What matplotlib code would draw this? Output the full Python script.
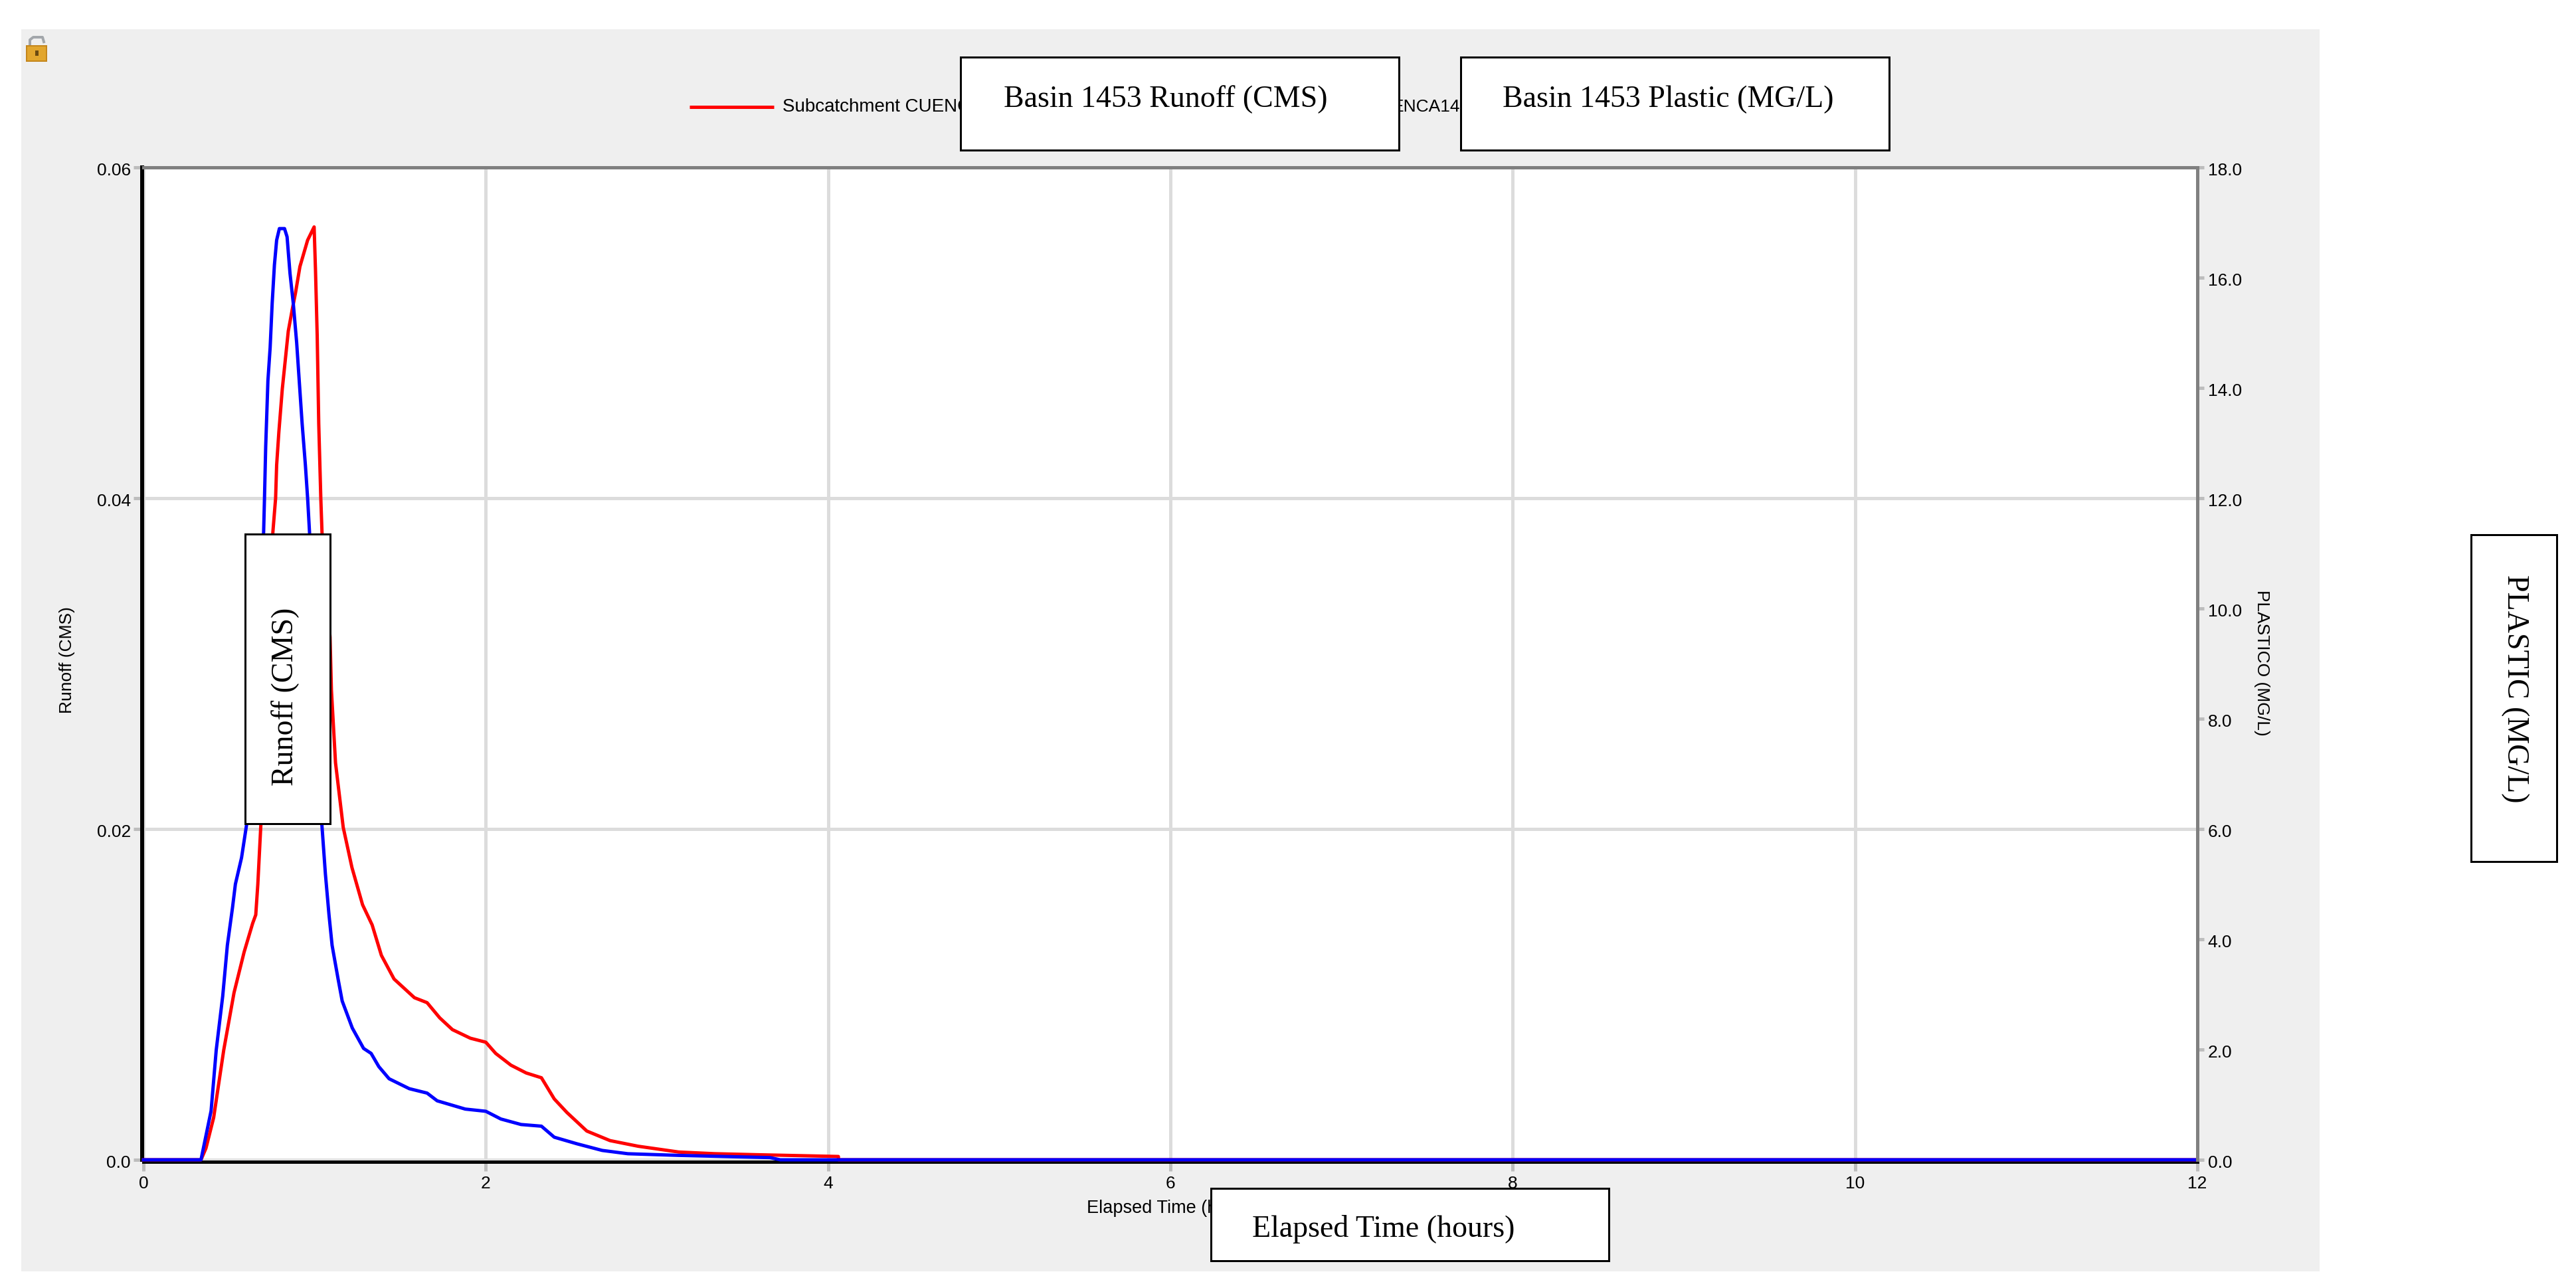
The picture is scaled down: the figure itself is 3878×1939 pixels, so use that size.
import matplotlib
matplotlib.use('Agg')
import matplotlib.pyplot as plt
from matplotlib.lines import Line2D
from matplotlib.patches import Rectangle
from matplotlib.transforms import Affine2D, ScaledTranslation

# Datos
runoff_horas = [0, 0.336, 0.365, 0.41, 0.469, 0.529, 0.588, 0.638, 0.656, 0.668, 0.686,
                0.756, 0.772, 0.778, 0.791, 0.811, 0.83, 0.846, 0.869, 0.888, 0.914, 0.959, 0.997,
                1.005, 1.015, 1.024, 1.036, 1.043, 1.09, 1.098, 1.122, 1.167, 1.218, 1.28, 1.336,
                1.39, 1.464, 1.583, 1.657, 1.731, 1.805, 1.91, 2.0, 2.058, 2.147, 2.236, 2.325,
                2.4, 2.474, 2.59, 2.726, 2.89, 3.127, 3.335, 3.572, 4.06, 4.061, 12]
runoff_cms = [0, 0, 0.0007, 0.00255, 0.00664, 0.0101, 0.01256, 0.0143, 0.01481, 0.01665, 0.0203,
              0.03795, 0.04, 0.042, 0.044, 0.0466, 0.0485, 0.0501, 0.0514, 0.0524, 0.054, 0.0556, 0.0564,
              0.0538, 0.0498, 0.0445, 0.04, 0.03795, 0.0316, 0.0284, 0.024, 0.0201, 0.01767, 0.01542, 0.0142,
              0.01236, 0.01093, 0.0098, 0.0095, 0.00858, 0.00787, 0.00735, 0.00711, 0.00643, 0.00572, 0.00525, 0.00496,
              0.00368, 0.00286, 0.00174, 0.00116, 0.00082, 0.00047, 0.00037, 0.00031, 0.0002, 0, 0]

plastico_horas = [0, 0.336, 0.395, 0.425, 0.463, 0.49, 0.52, 0.537, 0.573, 0.603, 0.702,
                  0.707, 0.714, 0.727, 0.74, 0.752, 0.765, 0.778, 0.794, 0.824, 0.839, 0.856, 0.875,
                  0.895, 0.91, 0.927, 0.946, 0.959, 0.97, 1.042, 1.063, 1.084, 1.102, 1.137, 1.161,
                  1.22, 1.286, 1.33, 1.375, 1.435, 1.553, 1.657, 1.716, 1.88, 2.0, 2.088, 2.206,
                  2.325, 2.4, 2.533, 2.68, 2.83, 3.127, 3.66, 3.72, 12]
plastico_mgl = [0, 0, 0.888, 1.99, 2.97, 3.89, 4.57, 5.0, 5.48, 6.09, 11.39,
                12.0, 12.93, 14.13, 14.73, 15.54, 16.23, 16.68, 16.89, 16.89, 16.74, 16.08, 15.54,
                14.82, 14.13, 13.35, 12.6, 12.0, 11.39, 6.09, 5.18, 4.44, 3.89, 3.28, 2.88,
                2.39, 2.02, 1.93, 1.69, 1.47, 1.29, 1.21, 1.07, 0.92, 0.88, 0.74, 0.64,
                0.61, 0.41, 0.29, 0.17, 0.11, 0.08, 0.04, 0, 0]

x_ticks = [0, 2, 4, 6, 8, 10, 12]
runoff_ticks = [0, 0.02, 0.04, 0.06]
runoff_labels = ['0.0', '0.02', '0.04', '0.06']
plastico_ticks = [0, 2, 4, 6, 8, 10, 12, 14, 16, 18]
plastico_labels = ['0.0', '2.0', '4.0', '6.0', '8.0', '10.0', '12.0', '14.0', '16.0', '18.0']

ANCHO, ALTO = 3878, 1939
SANS = 'Liberation Sans'
SERIF = 'Liberation Serif'
PX = 0.72  # puntos por pixel a dpi 100

fig = plt.figure(figsize=(ANCHO / 100, ALTO / 100), dpi=100)
# coordenadas en pixeles de la imagen, origen arriba a la izquierda
pix = Affine2D().scale(1 / ANCHO, -1 / ALTO).translate(0, 1) + fig.transFigure


def caja(x0, y0, x1, y1, **kw):
    r = Rectangle((x0, y0), x1 - x0, y1 - y0, transform=pix, **kw)
    fig.add_artist(r)


def texto(x, y, s, **kw):
    fig.text(x, y, s, transform=pix, **kw)


# Panel gris de fondo
caja(32, 44, 3492, 1914, facecolor='#efefef', edgecolor='none', zorder=-1)

ax = fig.add_axes([216 / ANCHO, 1 - 1746 / ALTO, (3308 - 216) / ANCHO, (1746 - 252) / ALTO])
ax.set_facecolor('white')
ax.plot(runoff_horas, runoff_cms, color='#ff0000', lw=5 * PX, zorder=3, clip_on=False)
ax.set_xlim(0, 12)
ax.set_ylim(0, 0.06)
ax.set_xticks(x_ticks)
ax.set_yticks(runoff_ticks)
ax.set_yticklabels(runoff_labels)
ax.grid(True, color='#dcdcdc', lw=5 * PX)
ax.set_axisbelow(True)
ax.tick_params(axis='x', length=14 * PX, width=5 * PX, color='#bdbdbd', pad=5,
               labelsize=19, labelfontfamily=SANS)
ax.tick_params(axis='y', length=13 * PX, width=5 * PX, color='#bdbdbd', pad=3,
               labelsize=19, labelfontfamily=SANS)
ax.spines['left'].set_position(('outward', 2 * PX))
ax.spines['bottom'].set_position(('outward', 3 * PX))
ax.spines['left'].set_linewidth(6 * PX)
ax.spines['bottom'].set_linewidth(5 * PX)
ax.spines['top'].set_linewidth(5 * PX)
ax.spines['top'].set_color('#808080')
ax.spines['right'].set_visible(False)

ax2 = ax.twinx()
ax2.plot(plastico_horas, plastico_mgl, color='#0000ff', lw=5 * PX, clip_on=False)
ax2.set_ylim(0, 18)
ax2.set_yticks(plastico_ticks)
ax2.set_yticklabels(plastico_labels)
ax2.tick_params(axis='y', length=10 * PX, width=5 * PX, color='#bdbdbd', pad=4,
                labelsize=19, labelfontfamily=SANS)
for lado in ['left', 'top', 'bottom']:
    ax2.spines[lado].set_visible(False)
ax2.spines['right'].set_linewidth(5 * PX)
ax2.spines['right'].set_color('#808080')

# las etiquetas de y quedan 2 px por debajo de su marca
bajar = ScaledTranslation(0, -2 / 100, fig.dpi_scale_trans)
for lab in ax.get_yticklabels() + ax2.get_yticklabels():
    lab.set_transform(lab.get_transform() + bajar)

# Titulos originales del programa
texto(101, 994, 'Runoff (CMS)', family=SANS, fontsize=19, rotation=90, ha='center', va='center')
texto(3405, 998, 'PLASTICO (MG/L)', family=SANS, fontsize=19, rotation=270, ha='center', va='center')
texto(1765, 1819, 'Elapsed Time (hours)', family=SANS, fontsize=19.5, ha='center', va='center')

# Lo que se ve de la leyenda original entre las cajas
fig.add_artist(Line2D([1038, 1165], [161, 161], transform=pix, color='#ff0000', lw=5 * PX,
                      solid_capstyle='butt', zorder=1))
texto(1178, 161, 'Subcatchment CUENC', family=SANS, fontsize=20, va='center', zorder=1)
texto(2198, 161, 'ENCA14', family=SANS, fontsize=19, ha='right', va='center', zorder=1)

# Candado
fig.add_artist(Line2D([45, 45, 50, 64, 66], [70, 60, 56, 56, 63], transform=pix,
                      color='#a2a6aa', lw=4 * PX, zorder=2))
caja(40, 69, 70, 92, facecolor='#e2a62e', edgecolor='#c4861c', lw=2 * PX, zorder=2)
caja(53, 76, 58, 84, facecolor='#6b4a10', edgecolor='none', zorder=3)

# Cajas blancas superpuestas
borde = dict(facecolor='white', edgecolor='black', lw=3 * PX, zorder=5)
caja(1446, 86, 2106, 226, **borde)
caja(2199, 86, 2844, 226, **borde)
caja(369, 804, 497, 1240, **borde)
caja(3720, 805, 3849, 1297, **borde)
caja(1823, 1789, 2422, 1898, **borde)

texto(1511, 150, 'Basin 1453 Runoff (CMS)', family=SERIF, fontsize=33, va='center', zorder=6)
texto(2262, 150, 'Basin 1453 Plastic (MG/L)', family=SERIF, fontsize=33, va='center', zorder=6)
texto(430, 1049, 'Runoff (CMS)', family=SERIF, fontsize=33, rotation=90, ha='center', va='center', zorder=6)
texto(3786, 1037, 'PLASTIC (MG/L)', family=SERIF, fontsize=33, rotation=270, ha='center', va='center', zorder=6)
texto(1885, 1850, 'Elapsed Time (hours)', family=SERIF, fontsize=33, va='center', zorder=6)

plt.savefig('out.png', dpi=100)
